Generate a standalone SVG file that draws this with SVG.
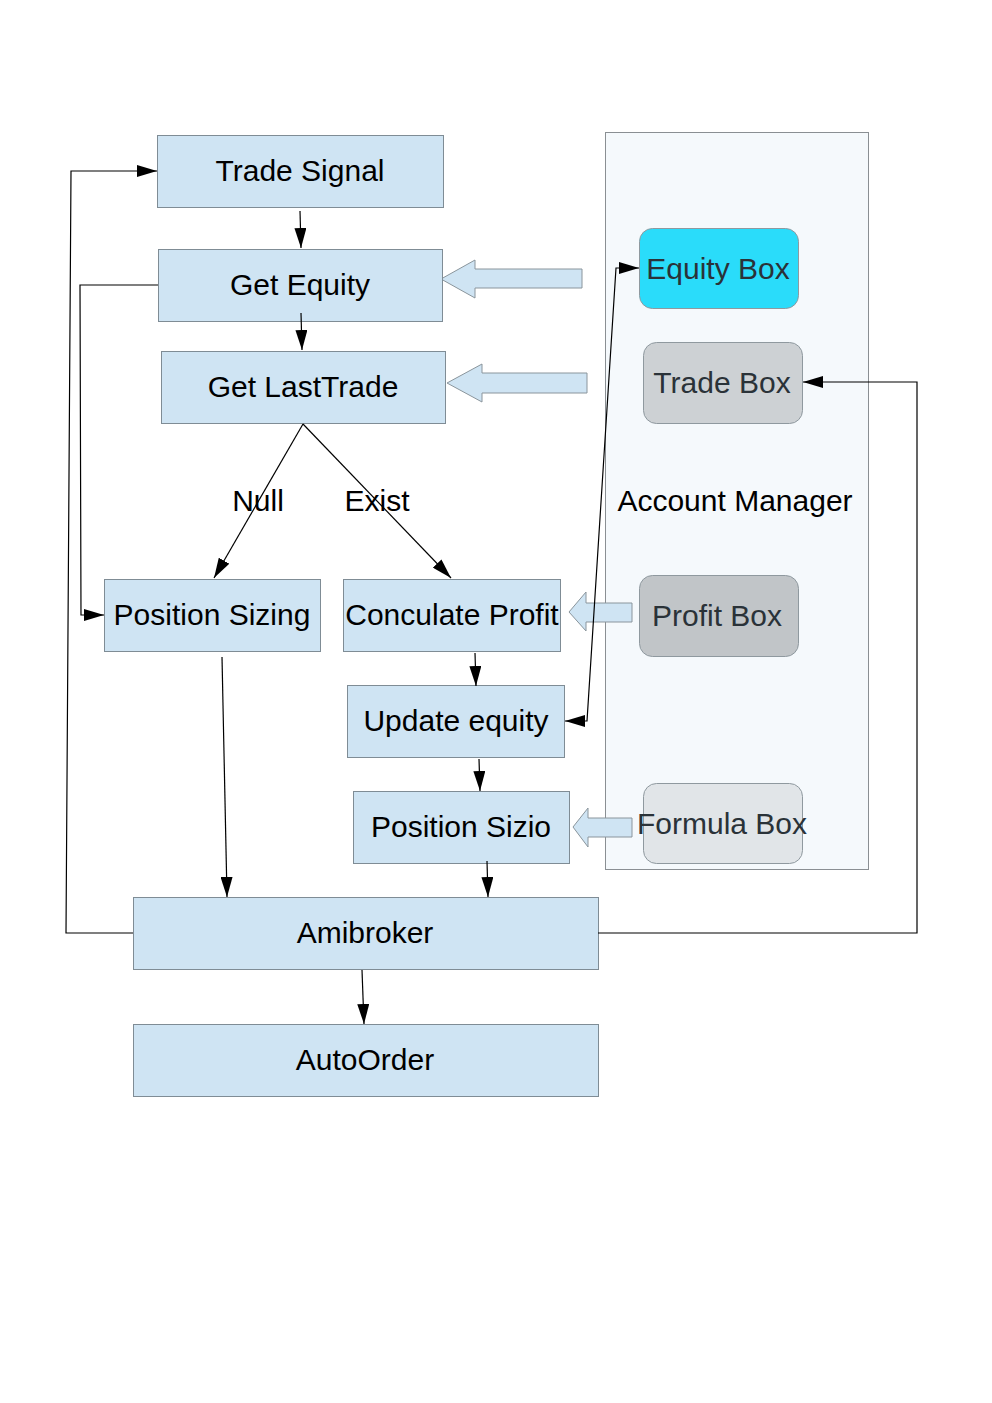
<svg xmlns="http://www.w3.org/2000/svg" width="992" height="1403" viewBox="0 0 992 1403">
<style>
.box{fill:#cfe4f3;stroke:#7f8c95;stroke-width:1}
.t{font-family:"Liberation Sans",Arial,sans-serif;font-size:30px;fill:#000;text-anchor:middle}
.tg{font-family:"Liberation Sans",Arial,sans-serif;font-size:30px;fill:#2a3238;text-anchor:middle}
.rb{stroke:#8f999f;stroke-width:1}
.c{fill:none;stroke:#000;stroke-width:1.2;marker-end:url(#ah)}
.ba{fill:#cfe4f3;stroke:#8a959c;stroke-width:1}
</style>
<defs>
<marker id="ah" markerUnits="userSpaceOnUse" markerWidth="20" markerHeight="12" refX="20" refY="6" orient="auto-start-reverse" viewBox="0 0 20 12">
<path d="M0,0 L20,6 L0,12 z" fill="#000"/>
</marker>
</defs>
<rect width="992" height="1403" fill="#fff"/>

<g id="account-manager">
<rect x="605.5" y="132.5" width="263" height="737" fill="#f5f9fc" stroke="#8a8f93"/>
<text class="t" x="735" y="511">Account Manager</text>
</g>
<g id="equity-box"><rect class="rb" x="639.5" y="228.5" width="159" height="80" rx="13" fill="#2adcfa"/><text class="tg" x="718" y="279">Equity Box</text></g>
<g id="trade-box"><rect class="rb" x="643.5" y="342.5" width="159" height="81" rx="13" fill="#cdd1d4"/><text class="tg" x="722" y="393">Trade Box</text></g>
<g id="profit-box"><rect class="rb" x="639.5" y="575.5" width="159" height="81" rx="13" fill="#c1c5c8"/><text class="tg" x="717" y="626">Profit Box</text></g>
<g id="formula-box"><rect class="rb" x="643.5" y="783.5" width="159" height="80" rx="13" fill="#e1e5e8"/></g>

<g id="block-arrows">
<path class="ba" d="M441,279 L475,260 L475,269 L582,269 L582,288 L475,288 L475,298 Z"/>
<path class="ba" d="M447,383 L482,364 L482,373 L587,373 L587,393 L482,393 L482,402 Z"/>
<path class="ba" d="M569,612 L586,592 L586,603 L632,603 L632,622 L586,622 L586,631 Z"/>
<path class="ba" d="M573,827 L588,808 L588,818 L632,818 L632,837 L588,837 L588,847 Z"/>
</g>
<text class="tg" x="722" y="834">Formula Box</text>

<g id="trade-signal"><rect class="box" x="157.5" y="135.5" width="286" height="72"/><text class="t" x="300" y="181">Trade Signal</text></g>
<g id="get-equity"><rect class="box" x="158.5" y="249.5" width="284" height="72"/><text class="t" x="300" y="295">Get Equity</text></g>
<g id="get-lasttrade"><rect class="box" x="161.5" y="351.5" width="284" height="72"/><text class="t" x="303" y="397">Get LastTrade</text></g>
<g id="position-sizing"><rect class="box" x="104.5" y="579.5" width="216" height="72"/><text class="t" x="212" y="625">Position Sizing</text></g>
<g id="conculate-profit"><rect class="box" x="343.5" y="579.5" width="217" height="72"/><text class="t" x="452" y="625">Conculate Profit</text></g>
<g id="update-equity"><rect class="box" x="347.5" y="685.5" width="217" height="72"/><text class="t" x="456" y="731">Update equity</text></g>
<g id="position-sizio"><rect class="box" x="353.5" y="791.5" width="216" height="72"/><text class="t" x="461" y="837">Position Sizio</text></g>
<g id="amibroker"><rect class="box" x="133.5" y="897.5" width="465" height="72"/><text class="t" x="365" y="943">Amibroker</text></g>
<g id="autoorder"><rect class="box" x="133.5" y="1024.5" width="465" height="72"/><text class="t" x="365" y="1070">AutoOrder</text></g>

<g id="connectors">
<path class="c" d="M300,211 L301,248"/>
<path class="c" d="M301,313 L302,350"/>
<path class="c" d="M303,424 L214,578"/>
<path class="c" d="M303,424 L451,578"/>
<path class="c" d="M158,285 L80,285 L81,615 L104,615"/>
<path class="c" d="M133,933 L66,933 L71,171 L157,171"/>
<path class="c" d="M598,933 L917,933 L917,382 L803,382"/>
<path class="c" d="M222,657 L227,897"/>
<path class="c" d="M475,653 L476,686"/>
<path class="c" d="M479,759 L480,791"/>
<path class="c" d="M487,861 L488,897"/>
<path class="c" d="M362,970 L364,1024"/>
<path class="c" style="marker-start:url(#ah)" d="M565,721 L587,721 L616,268 L639,268"/>
</g>
<g id="labels">
<text class="t" x="258" y="511">Null</text>
<text class="t" x="377" y="511">Exist</text>
</g>
</svg>
